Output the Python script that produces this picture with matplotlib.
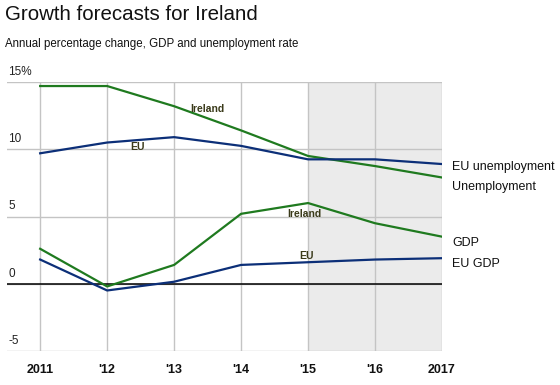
import matplotlib
matplotlib.use("Agg")
import matplotlib.pyplot as plt

years = [2011, 2012, 2013, 2014, 2015, 2016, 2017]
tick_labels = ["2011", "'12", "'13", "'14", "'15", "'16", "2017"]
ireland_unemp = [14.7, 14.7, 13.2, 11.4, 9.5, 8.75, 7.9]
eu_unemp = [9.7, 10.5, 10.9, 10.25, 9.25, 9.25, 8.9]
ireland_gdp = [2.6, -0.2, 1.4, 5.2, 6.0, 4.5, 3.5]
eu_gdp = [1.8, -0.5, 0.15, 1.4, 1.6, 1.8, 1.9]
y_ticks = [-5, 0, 5, 10, 15]
y_labels = ["-5", "0", "5", "10", "15%"]
forecast_start = 2015

GREEN = "#1f7a1f"
BLUE = "#0c2f78"
LABEL_C = "#3a3a1a"

plt.rcParams['font.family'] = ['Liberation Sans', 'DejaVu Sans']

fig = plt.figure(figsize=(5.6, 3.85), dpi=100)
ax = fig.add_axes([7/560, 1-351/385, (442-7)/560, (351-82)/385])

ax.set_xlim(2010.505, 2017)
ax.set_ylim(-5, 15)

ax.axvspan(forecast_start, 2017, color="#ebebeb", zorder=0, lw=0)

for y in y_ticks:
    ax.axhline(y, color="#c4c4c4", lw=1, zorder=1)
ax.axhline(0, color="black", lw=1.1, zorder=2)
for x in years:
    ax.axvline(x, color="#c4c4c4", lw=1, zorder=1)

ax.plot(years, ireland_unemp, color=GREEN, lw=1.6, zorder=3)
ax.plot(years, eu_unemp, color=BLUE, lw=1.6, zorder=3)
ax.plot(years, ireland_gdp, color=GREEN, lw=1.6, zorder=3)
ax.plot(years, eu_gdp, color=BLUE, lw=1.6, zorder=3)

for sp in ax.spines.values():
    sp.set_visible(False)
ax.set_xticks([])
ax.set_yticks([])

# y labels above gridlines
for y, lab in zip(y_ticks, y_labels):
    ax.text(2010.52, y + 0.3, lab, fontsize=8.5, color="#222222", ha="left", va="bottom")

# x tick labels
for x, lab in zip(years, tick_labels):
    ax.text(x, -6.4, lab, fontsize=9, fontweight="bold", color="#111111", ha="center", va="center")

# inline labels
ax.text(2013.5, 13.0, "Ireland", fontsize=7.5, fontweight="bold", color=LABEL_C, ha="center", va="center")
ax.text(2012.45, 10.2, "EU", fontsize=7.5, fontweight="bold", color=LABEL_C, ha="center", va="center")
ax.text(2014.95, 5.2, "Ireland", fontsize=7.5, fontweight="bold", color=LABEL_C, ha="center", va="center")
ax.text(2014.97, 2.1, "EU", fontsize=7.5, fontweight="bold", color=LABEL_C, ha="center", va="center")

# right labels
fig.text(452/560, 1-167/385, "EU unemployment", fontsize=9, color="#111111", ha="left", va="center")
fig.text(452/560, 1-187/385, "Unemployment", fontsize=9, color="#111111", ha="left", va="center")
fig.text(452/560, 1-243/385, "GDP", fontsize=9, color="#111111", ha="left", va="center")
fig.text(452/560, 1-264/385, "EU GDP", fontsize=9, color="#111111", ha="left", va="center")

fig.text(5/560, 1-14/385, "Growth forecasts for Ireland", fontsize=14.8, color="#111111", ha="left", va="center")
fig.text(5/560, 1-44/385, "Annual percentage change, GDP and unemployment rate", fontsize=8.3, color="#111111", ha="left", va="center")

fig.savefig("out.png", dpi=100, facecolor="white")
